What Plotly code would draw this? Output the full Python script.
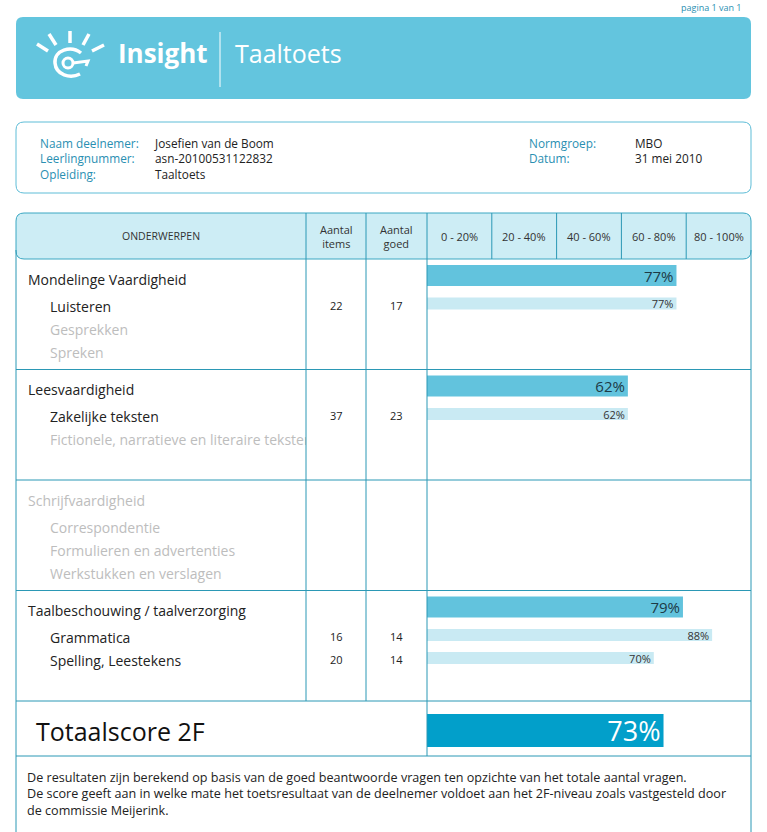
import plotly.graph_objects as go

# report data
sections = ["Mondelinge Vaardigheid", "Leesvaardigheid", "Schrijfvaardigheid",
            "Taalbeschouwing / taalverzorging"]
section_scores = [77, 62, None, 79]
subtopics = [["Luisteren", "Gesprekken", "Spreken"],
             ["Zakelijke teksten", "Fictionele, narratieve en literaire teksten"],
             ["Correspondentie", "Formulieren en advertenties", "Werkstukken en verslagen"],
             ["Grammatica", "Spelling, Leestekens"]]
aantal_items = [[22, None, None], [37, None], [None, None, None], [16, 20]]
aantal_goed = [[17, None, None], [23, None], [None, None, None], [14, 14]]
sub_scores = [[77, None, None], [62, None], [None, None, None], [88, 70]]
total_score = 73
bands = ["0 - 20%", "20 - 40%", "40 - 60%", "60 - 80%", "80 - 100%"]
band_mid = [10, 30, 50, 70, 90]

info_left_labels = ["Naam deelnemer:", "Leerlingnummer:", "Opleiding:"]
info_left_values = ["Josefien van de Boom", "asn-20100531122832", "Taaltoets"]
info_right_labels = ["Normgroep:", "Datum:"]
info_right_values = ["MBO", "31 mei 2010"]

footer = ["De resultaten zijn berekend op basis van de goed beantwoorde vragen ten opzichte van het totale aantal vragen.",
          "De score geeft aan in welke mate het toetsresultaat van de deelnemer voldoet aan het 2F-niveau zoals vastgesteld door",
          "de commissie Meijerink."]

W, H = 767, 832
FONT = "Open Sans"
LINE = "#2b98b5"
TEAL_TXT = "#2a8fb2"
GRAY = "#bdbdbd"
DARK = "#222222"

# layout of the table (pixels)
row_h = 110.5
top0 = 259


def sec_top(i):
    return top0 + i * row_h


def rrect(x0, y0, x1, y1, r):
    return (f"M {x0+r},{y0} L {x1-r},{y0} Q {x1},{y0} {x1},{y0+r} L {x1},{y1-r} "
            f"Q {x1},{y1} {x1-r},{y1} L {x0+r},{y1} Q {x0},{y1} {x0},{y1-r} "
            f"L {x0},{y0+r} Q {x0},{y0} {x0+r},{y0} Z")


fig = go.Figure()

# ---- bars ----
mx, my, mt = [], [], []
sx, sy, st = [], [], []
for i, sc in enumerate(section_scores):
    if sc is not None:
        mx.append(sc)
        my.append(sec_top(i) + 16.5)
        mt.append(f"{sc}%")
    for k, v in enumerate(sub_scores[i]):
        if v is not None:
            sx.append(v)
            sy.append(sec_top(i) + 44.5 + 23 * k)
            st.append(f"{v}%")

fig.add_trace(go.Bar(x=mx, y=my, orientation="h", width=21, xaxis="x2", yaxis="y",
                     marker=dict(color="#62c3dd", line_width=0), text=mt,
                     textposition="inside", insidetextanchor="end", constraintext="none",
                     textfont=dict(family=FONT, size=15, color="#1d3a46"), hoverinfo="skip"))
fig.add_trace(go.Bar(x=sx, y=sy, orientation="h", width=12, xaxis="x2", yaxis="y",
                     marker=dict(color="#c9eaf3", line_width=0), text=st,
                     textposition="inside", insidetextanchor="end", constraintext="none",
                     textfont=dict(family=FONT, size=11, color="#333333"), hoverinfo="skip"))
fig.add_trace(go.Bar(x=[total_score], y=[sec_top(4) + 29.5], orientation="h", width=33,
                     xaxis="x2", yaxis="y",
                     marker=dict(color="#029fca", line_width=0), text=[f"{total_score}%"],
                     textposition="inside", insidetextanchor="end", constraintext="none",
                     textfont=dict(family=FONT, size=27, color="white"), hoverinfo="skip"))

# ---- topic names (clipped to the first column) ----
tx, ty, tt, tc = [], [], [], []
for i, name in enumerate(sections):
    tx.append(28)
    ty.append(sec_top(i) + 22)
    tt.append(name)
    tc.append(DARK if section_scores[i] is not None else GRAY)
    for k, sub in enumerate(subtopics[i]):
        tx.append(50)
        ty.append(sec_top(i) + 49 + 23 * k)
        tt.append(sub)
        tc.append(DARK if sub_scores[i][k] is not None else GRAY)
fig.add_trace(go.Scatter(x=tx, y=ty, text=tt, mode="text", textposition="middle right",
                         textfont=dict(family=FONT, size=14, color=tc),
                         xaxis="x3", yaxis="y", cliponaxis=True, hoverinfo="skip"))

shapes = []
ann = []

# banner
shapes.append(dict(type="path", path=rrect(16, 17, 751, 99, 7), fillcolor="#63c5de",
                   line_width=0, layer="below"))
shapes.append(dict(type="line", x0=220, x1=220, y0=32, y1=87, line=dict(color="white", width=1)))
# logo
for (a, b, c, d) in [(37, 44, 48, 51), (49, 34, 56, 45), (70, 31, 70, 43),
                     (89, 34, 83, 45), (104, 45, 92, 51)]:
    shapes.append(dict(type="line", x0=a, y0=b, x1=c, y1=d, line=dict(color="white", width=3.5)))
shapes.append(dict(type="path", path="M 81,53 C 71,45 54,50 55,63 C 56,75 70,79 80,74",
                   line=dict(color="white", width=3.5)))
shapes.append(dict(type="circle", x0=63, x1=73, y0=58, y1=68, line=dict(color="white", width=3)))
shapes.append(dict(type="path", path="M 73,63 L 88,61 L 86,66", line=dict(color="white", width=3)))
ann.append(dict(x=116, y=53, text="<b>Insight</b>", xanchor="left", yanchor="middle",
                font=dict(family=FONT, size=26, color="white")))
ann.append(dict(x=233, y=53, text="Taaltoets", xanchor="left", yanchor="middle",
                font=dict(family=FONT, size=25, color="white")))
ann.append(dict(x=744, y=7, text="pagina 1 van 1", xanchor="right", yanchor="middle",
                font=dict(family=FONT, size=9, color=TEAL_TXT)))

# info box
shapes.append(dict(type="path", path=rrect(16, 122, 751, 193, 8), line=dict(color="#5fbdd7", width=1)))
for x, lines, col in [(38, info_left_labels, TEAL_TXT), (152, info_left_values, DARK),
                      (527, info_right_labels, TEAL_TXT), (633, info_right_values, DARK)]:
    ann.append(dict(x=x, y=133, text="<br>".join(lines), xanchor="left", yanchor="top",
                    align="left", font=dict(family=FONT, size=11.8, color=col)))

# table header
shapes.append(dict(type="path", path=rrect(16, 213, 751, 259, 8), fillcolor="#cdedf5",
                   line=dict(color="#3aa7c2", width=1), layer="below"))
ann.append(dict(x=161, y=236, text="ONDERWERPEN", xanchor="center", yanchor="middle",
                font=dict(family=FONT, size=10.5, color="#333333")))
ann.append(dict(x=336, y=236, text="Aantal<br>items", xanchor="center", yanchor="middle",
                font=dict(family=FONT, size=11, color="#333333")))
ann.append(dict(x=396, y=236, text="Aantal<br>goed", xanchor="center", yanchor="middle",
                font=dict(family=FONT, size=11, color="#333333")))
for lab, m in zip(bands, band_mid):
    ann.append(dict(x=m, y=236, xref="x2", text=lab, xanchor="center", yanchor="middle",
                    font=dict(family=FONT, size=11, color="#333333")))
for b in band_mid[:-1]:
    shapes.append(dict(type="line", xref="x2", x0=b + 10, x1=b + 10, y0=213, y1=259,
                       line=dict(color=LINE, width=1)))

# table grid
for x in (16, 751):
    shapes.append(dict(type="line", x0=x, x1=x, y0=250, y1=H, line=dict(color=LINE, width=1)))
for x in (306, 366):
    shapes.append(dict(type="line", x0=x, x1=x, y0=213, y1=sec_top(4), line=dict(color=LINE, width=1),
                       layer="above"))
shapes.append(dict(type="line", x0=427, x1=427, y0=213, y1=sec_top(4) + 55,
                   line=dict(color=LINE, width=1), layer="above"))
for i in range(1, 5):
    shapes.append(dict(type="line", x0=16, x1=751, y0=sec_top(i), y1=sec_top(i),
                       line=dict(color=LINE, width=1)))
shapes.append(dict(type="line", x0=16, x1=751, y0=sec_top(4) + 55, y1=sec_top(4) + 55,
                   line=dict(color=LINE, width=1)))

# counts
for i in range(len(sections)):
    for k in range(len(subtopics[i])):
        if aantal_items[i][k] is not None:
            yy = sec_top(i) + 46 + 23 * k
            ann.append(dict(x=336, y=yy, text=str(aantal_items[i][k]), xanchor="center",
                            yanchor="middle", font=dict(family=FONT, size=11, color=DARK)))
            ann.append(dict(x=396, y=yy, text=str(aantal_goed[i][k]), xanchor="center",
                            yanchor="middle", font=dict(family=FONT, size=11, color=DARK)))

# total row
ann.append(dict(x=34, y=sec_top(4) + 30, text="Totaalscore 2F", xanchor="left", yanchor="middle",
                font=dict(family=FONT, size=25, color="#111111")))

# footer
ann.append(dict(x=25, y=767, text="<br>".join(footer), xanchor="left", yanchor="top",
                align="left", font=dict(family=FONT, size=12.6, color=DARK)))

for a in ann:
    a.setdefault("xref", "x")
    a.setdefault("yref", "y")
    a["showarrow"] = False
for s in shapes:
    s.setdefault("xref", "x")
    s.setdefault("yref", "y")

fig.update_layout(
    width=W, height=H, margin=dict(l=0, r=0, t=0, b=0),
    paper_bgcolor="white", plot_bgcolor="rgba(0,0,0,0)",
    showlegend=False, barmode="overlay",
    xaxis=dict(range=[0, W], domain=[0, 1], visible=False, fixedrange=True),
    yaxis=dict(range=[H, 0], domain=[0, 1], visible=False, fixedrange=True),
    xaxis2=dict(range=[0, 100], domain=[427 / W, 751 / W], anchor="y", visible=False),
    xaxis3=dict(range=[0, 306], domain=[0, 306 / W], anchor="y", visible=False),
    shapes=shapes, annotations=ann,
)

fig.write_html("out.html", config={"displayModeBar": False},
               post_script="document.body.style.margin='0';")
